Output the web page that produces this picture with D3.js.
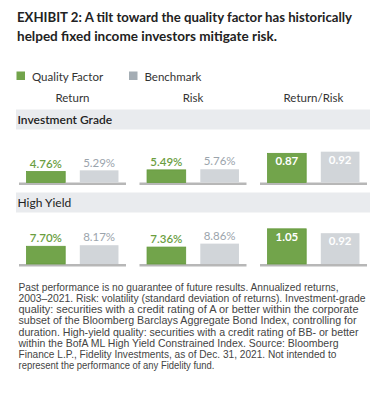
<!DOCTYPE html>
<html><head><meta charset="utf-8">
<script src="https://cdn.jsdelivr.net/npm/d3@7"></script>
<style>body{margin:0;background:#fff}svg{display:block}</style>
</head><body>
<svg id="c" width="386" height="400"></svg>
<script>
const metrics = ["Return", "Risk", "Return/Risk"];
const seriesNames = ["Quality Factor", "Benchmark"];
const segments = ["Investment Grade", "High Yield"];
const igQuality = [4.76, 5.49, 0.87];
const igBenchmark = [5.29, 5.76, 0.92];
const hyQuality = [7.70, 7.36, 1.05];
const hyBenchmark = [8.17, 8.86, 0.92];
const titleLines = ["EXHIBIT 2: A tilt toward the quality factor has historically",
  "helped fixed income investors mitigate risk."];
const noteLines = [
  "Past performance is no guarantee of future results. Annualized returns,",
  "2003\u20132021. Risk: volatility (standard deviation of returns). Investment-grade",
  "quality: securities with a credit rating of A or better within the corporate",
  "subset of the Bloomberg Barclays Aggregate Bond Index, controlling for",
  "duration. High-yield quality: securities with a credit rating of BB- or better",
  "within the BofA ML High Yield Constrained Index. Source: Bloomberg",
  "Finance L.P., Fidelity Investments, as of Dec. 31, 2021. Not intended to",
  "represent the performance of any Fidelity fund."];
const noteWidths = [320, 347, 340, 338, 340, 320, 318, 196];

const svg = d3.select("#c");
const GREEN = "#72a44b", GREY = "#d1d5d9";
const sans = "Lato, 'Open Sans', sans-serif";

// title
svg.selectAll("text.title").data(titleLines).join("text")
  .attr("x", 17).attr("y", (d, i) => 22 + i * 19)
  .attr("font-family", sans).attr("font-weight", 700).attr("font-size", 13.5)
  .attr("fill", "#222")
  .attr("textLength", (d, i) => i === 0 ? 335 : 260).attr("lengthAdjust", "spacingAndGlyphs")
  .text(d => d);

// legend
const legX = [16.5, 129];
const legColors = [GREEN, "#a4adb4"];
seriesNames.forEach((s, i) => {
  svg.append("rect").attr("x", legX[i]).attr("y", 71.5).attr("width", 8.5).attr("height", 8.5).attr("fill", legColors[i]);
  svg.append("text").attr("x", legX[i] + 15.5).attr("y", 80.5)
    .attr("font-family", sans).attr("font-size", 11.5).attr("fill", "#333").text(s);
});

// scales
const x = d3.scaleBand().domain(metrics).range([19, 367]).paddingInner(0.112).paddingOuter(0);
const xs = d3.scaleBand().domain(seriesNames).range([0, x.bandwidth()]).paddingInner(0.274).paddingOuter(0.1415);
const hPct = d3.scaleLinear().domain([0, 10]).range([0, 23]);
const hRatio = d3.scaleLinear().domain([0, 1.2]).range([0, 40.2]);

// headers
svg.selectAll("text.hdr").data(metrics).join("text")
  .attr("x", d => x(d) + x.bandwidth() / 2).attr("y", 101.5).attr("text-anchor", "middle")
  .attr("font-family", sans).attr("font-size", 11.5).attr("fill", "#333").text(d => d);

const panels = [
  { name: segments[0], q: igQuality, b: igBenchmark, bandTop: 109.5, base: 182.5, weight: 600 },
  { name: segments[1], q: hyQuality, b: hyBenchmark, bandTop: 192.5, base: 264, weight: 400 }
];

panels.forEach(p => {
  svg.append("rect").attr("x", 16).attr("y", p.bandTop).attr("width", 354).attr("height", 20).attr("fill", "#e9ebee");
  svg.append("text").attr("x", 17.5).attr("y", p.bandTop + 14.2)
    .attr("font-family", sans).attr("font-weight", p.weight).attr("font-size", 12).attr("fill", "#222").text(p.name);
  metrics.forEach((m, mi) => {
    const ratio = m === "Return/Risk";
    const h = ratio ? hRatio : hPct;
    svg.append("rect").attr("x", x(m)).attr("y", p.base).attr("width", x.bandwidth()).attr("height", 2.5).attr("fill", "#b7b7b7");
    const vals = [p.q[mi], p.b[mi]];
    vals.forEach((v, si) => {
      const s = seriesNames[si];
      const bx = x(m) + xs(s);
      const top = p.base - h(v);
      svg.append("rect").attr("x", bx).attr("y", top).attr("width", xs.bandwidth()).attr("height", h(v))
        .attr("fill", si === 0 ? GREEN : GREY)
        .attr("stroke", si === 0 ? "#649a3c" : "none").attr("stroke-width", si === 0 ? 0.8 : 0);
      const label = ratio ? v.toFixed(2) : v.toFixed(2) + "%";
      svg.append("text").attr("x", bx + xs.bandwidth() / 2)
        .attr("y", ratio ? top + 12 : top - 3.8).attr("text-anchor", "middle")
        .attr("font-family", sans).attr("font-size", 11.5)
        .attr("font-weight", ratio ? 700 : (si === 0 ? 600 : 400))
        .attr("fill", ratio ? "#fff" : (si === 0 ? "#6b9e3f" : "#9ba4ac"))
        .text(label);
    });
  });
});

// footnote
svg.selectAll("text.note").data(noteLines).join("text")
  .attr("x", 18.5).attr("y", (d, i) => 290.7 + i * 11.2)
  .attr("font-family", "'Liberation Sans Narrow', 'Liberation Sans', Arial, sans-serif")
  .attr("font-size", 10.5).attr("fill", "#444")
  .attr("textLength", (d, i) => noteWidths[i]).attr("lengthAdjust", "spacingAndGlyphs")
  .text(d => d);
</script>
</body></html>
